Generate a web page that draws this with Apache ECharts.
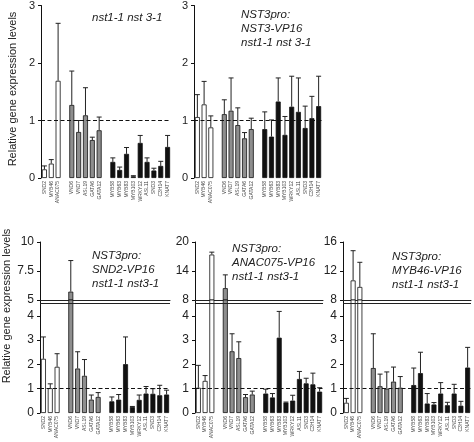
<!DOCTYPE html>
<html><head><meta charset="utf-8">
<script src="https://cdn.jsdelivr.net/npm/echarts@6/dist/echarts.min.js"></script>
<style>html,body{margin:0;padding:0;background:#fff}#c{width:474px;height:442px}</style>
</head><body><div id="c"></div>
<script>
// Categories (empty strings are gaps between gene groups)
const categories = ['SND2','MYB46','ANAC075','','VND6','VND7','ASL19','GATA6','GATA12','','MYB58','MYB63','MYB83','MYB103','WRKY12','ASL11','SND3','C3H14','KNAT7'];
const groups = ['w','w','w','','g','g','g','g','g','','b','b','b','b','b','b','b','b','b'];

// Panel 1: nst1-1 nst 3-1
const p1Mean = [0.15,0.25,1.69,'-',1.27,0.80,1.09,0.66,0.83,'-',0.28,0.14,0.42,0.03,0.61,0.28,0.13,0.21,0.54];
const p1Err  = [0.21,0.32,2.69,'-',1.86,1.00,1.57,0.71,1.06,'-',0.35,0.19,0.53,0.04,0.74,0.35,0.17,0.29,0.74];
// Panel 2: NST3pro:NST3-VP16
const p2Mean = [1.06,1.28,0.88,'-',1.11,1.17,0.92,0.69,0.85,'-',0.85,0.72,1.33,0.75,1.24,1.15,0.87,1.04,1.25];
const p2Err  = [1.45,1.68,1.08,'-',1.36,1.74,1.22,0.79,1.04,'-',1.15,1.01,1.74,1.07,1.77,1.74,1.25,1.42,1.77];
// Panel 3: NST3pro:SND2-VP16
const p3Mean = [2.23,1.02,1.90,'-',5.72,1.83,1.53,0.55,0.66,'-',0.48,0.55,2.01,0.25,0.54,0.80,0.79,0.73,0.76];
const p3Err  = [3.13,1.20,2.44,'-',8.40,2.52,2.20,0.74,0.84,'-',0.66,0.76,3.13,0.27,0.74,1.09,1.00,1.14,0.94];
// Panel 4: NST3pro:ANAC075-VP16
const p4Mean = [1.04,1.32,17.4,'-',10.45,2.54,2.26,0.65,0.76,'-',0.80,0.64,3.10,0.43,0.51,1.40,1.22,1.18,0.88];
const p4Err  = [1.96,1.54,17.9,'-',13.2,3.26,2.93,0.76,0.90,'-',0.98,0.80,4.18,0.45,0.73,1.71,1.43,1.64,1.04];
// Panel 5: NST3pro:MYB46-VP16
const p5Mean = [0.42,10.7,9.8,'-',1.85,1.10,1.00,1.29,1.04,'-',1.15,1.64,0.39,0.35,0.80,0.32,0.80,0.30,1.87];
const p5Err  = [0.60,14.8,13.2,'-',3.26,1.60,1.69,1.89,1.50,'-',1.85,2.50,0.80,0.43,1.25,0.44,1.18,0.48,2.70];

// Tick labels
const topTicks = [0,1,2,3];
const lowTicks = [0,1,2,3,4];
const up3Ticks = [5,7.5,10];
const up4Ticks = [8,14,20];
const up5Ticks = [8,12,16];

const yName = 'Relative gene expression levels';
const titles = [
  {text:'nst1-1 nst 3-1', left:92, top:11},
  {text:'NST3pro:\nNST3-VP16\nnst1-1 nst 3-1', left:241, top:8},
  {text:'NST3pro:\nSND2-VP16\nnst1-1 nst3-1', left:92, top:249},
  {text:'NST3pro:\nANAC075-VP16\nnst1-1 nst3-1', left:232, top:242},
  {text:'NST3pro:\nMYB46-VP16\nnst1-1 nst3-1', left:392, top:250}
];

const FONT = 'Liberation Sans, Arial, sans-serif';
const fill = {w:'#ffffff', g:'#8e8e8e', b:'#111111'};

const grids = [
  {left:41, top:5.5, width:130, height:172.5},
  {left:194, top:5.5, width:128, height:172.5},
  {left:40, top:242, width:130, height:58},
  {left:40, top:300, width:130, height:113},
  {left:195, top:242, width:128, height:58},
  {left:195, top:300, width:128, height:113},
  {left:343, top:242, width:128, height:58},
  {left:343, top:300, width:128, height:113}
];
const LOWMAX = 4.65, BREAK = 4.5;

const xAxes = [], yAxes = [], series = [];

function yAx(gi, min, max, ticks, fs) {
  return {
    type:'value', gridIndex:gi, min:min, max:max,
    splitLine:{show:false},
    axisLine:{show:true, lineStyle:{color:'#111', width:1}},
    axisTick:{show:true, length:3, customValues:ticks, lineStyle:{color:'#111'}},
    axisLabel:{customValues:ticks, fontSize:fs, color:'#222', fontFamily:FONT, margin:6}
  };
}
function xAx(gi, showLabels, showLine) {
  return {
    type:'category', gridIndex:gi, data:categories,
    axisLine:{show:showLine, onZero:false, lineStyle:{color:'#222', width:1}},
    axisTick:{show:false},
    axisLabel:{show:showLabels, rotate:90, interval:0, fontSize:5, color:'#444', fontFamily:FONT, margin:3}
  };
}
function errRender(params, api) {
  const x = api.value(0), v = api.value(1), e = api.value(2);
  const p0 = api.coord([x, v]), p1 = api.coord([x, e]);
  const st = {stroke:'#222', lineWidth:1};
  return {type:'group', children:[
    {type:'line', shape:{x1:p0[0], y1:p0[1], x2:p0[0], y2:p1[1]}, style:st},
    {type:'line', shape:{x1:p0[0]-2.5, y1:p1[1], x2:p0[0]+2.5, y2:p1[1]}, style:st}
  ]};
}
function addSeries(ai, means, errs, filt, lines) {
  const barData = means.map((v,i) => (v === '-' || !filt.bar(v)) ? '-' : v);
  const s = {
    type:'bar', xAxisIndex:ai, yAxisIndex:ai, data:barData, barWidth:5, clip:true,
    itemStyle:{color:(p)=>fill[groups[p.dataIndex]] || '#fff', borderColor:'#111', borderWidth:0.8},
    silent:true, z:2
  };
  if (lines && lines.length) {
    s.markLine = {silent:true, symbol:'none', label:{show:false}, animation:false,
      data: lines.map(l => ({yAxis:l.v, lineStyle:l.style}))};
  }
  series.push(s);
  const ed = [];
  means.forEach((v,i) => { if (v !== '-' && filt.err(v, errs[i])) ed.push([i, v, errs[i]]); });
  series.push({type:'custom', xAxisIndex:ai, yAxisIndex:ai, data:ed, renderItem:errRender,
    encode:{x:0, y:[1,2]}, clip:true, silent:true, z:3});
}
const dashed = {v:1, style:{type:[4,2.5], color:'#111', width:1.2}};
const solidBreak = {v:BREAK, style:{type:'solid', color:'#222', width:1}};
const all = {bar:()=>true, err:()=>true};

[[p1Mean,p1Err],[p2Mean,p2Err]].forEach((p, k) => {
  xAxes.push(xAx(k, true, false));
  yAxes.push(yAx(k, 0, 3, topTicks, 11));
  addSeries(k, p[0], p[1], all, [dashed]);
});
const bottom = [[p3Mean,p3Err,5,10,up3Ticks],[p4Mean,p4Err,8,20,up4Ticks],[p5Mean,p5Err,8,16,up5Ticks]];
bottom.forEach((p, k) => {
  const ui = 2 + 2*k, li = 3 + 2*k;
  xAxes[ui] = xAx(ui, false, true);
  yAxes[ui] = yAx(ui, p[2], p[3], p[4], 12);
  xAxes[li] = xAx(li, true, false);
  yAxes[li] = yAx(li, 0, LOWMAX, lowTicks, 12);
});
bottom.forEach((p, k) => {
  const ui = 2 + 2*k, li = 3 + 2*k, lo = p[2];
  addSeries(ui, p[0], p[1], {bar:(v)=>v > lo, err:(v,e)=>e > lo}, []);
  addSeries(li, p[0], p[1], {bar:()=>true, err:(v,e)=>e <= LOWMAX}, [dashed, solidBreak]);
});

const nameStyle = {text:yName, fontSize:11, fontFamily:FONT, fill:'#222', textAlign:'center', textVerticalAlign:'middle'};
const chart = echarts.init(document.getElementById('c'), null, {renderer:'canvas'});
chart.setOption({
  animation:false,
  backgroundColor:'#fff',
  title: titles.map(t => ({text:t.text, left:t.left, top:t.top, padding:0,
    textStyle:{fontSize:11.5, fontStyle:'italic', fontWeight:'normal', color:'#222', fontFamily:FONT, lineHeight:14}})),
  grid: grids,
  xAxis: xAxes,
  yAxis: yAxes,
  series: series,
  graphic: [
    {type:'text', x:13, y:89, rotation:Math.PI/2, style:nameStyle},
    {type:'text', x:7, y:306, rotation:Math.PI/2, style:nameStyle}
  ]
});
</script></body></html>
